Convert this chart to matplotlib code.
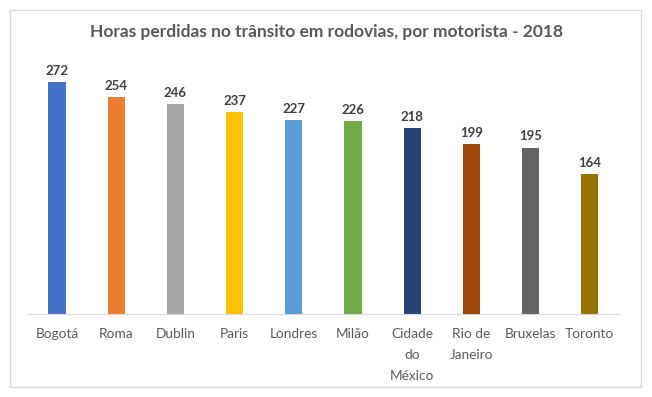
import matplotlib.pyplot as plt
from matplotlib.patches import Rectangle

# Data
cities = ["Bogotá", "Roma", "Dublin", "Paris", "Londres", "Milão",
          "Cidade\ndo\nMéxico", "Rio de\nJaneiro", "Bruxelas", "Toronto"]
hours = [272, 254, 246, 237, 227, 226, 218, 199, 195, 164]
colors = ["#4472C4", "#ED7D31", "#A5A5A5", "#FFC000", "#5B9BD5",
          "#70AD47", "#264478", "#9E480E", "#636363", "#997300"]

plt.rcParams['font.family'] = ['Lato', 'DejaVu Sans']

fig = plt.figure(figsize=(6.52, 3.97), dpi=100)
ax = fig.add_axes([0.042, 0.209, 0.908, 0.645])

x = range(len(cities))
bars = ax.bar(x, hours, width=0.29, color=colors)
for xi, h in zip(x, hours):
    ax.text(xi, h + 6, str(h), ha='center', va='bottom', fontsize=9.5,
            fontweight='bold', color='#404040')

ax.set_xlim(-0.5, len(cities) - 0.5)
ax.set_ylim(0, 300)
ax.set_yticks([])
ax.set_xticks(list(x))
ax.set_xticklabels(cities, fontsize=9.8, color='#595959', linespacing=1.9, va='top')
ax.tick_params(axis='x', length=0, pad=10)
for s in ['top', 'right', 'left']:
    ax.spines[s].set_visible(False)
ax.spines['bottom'].set_color('#D9D9D9')

fig.text(0.5, 0.92, "Horas perdidas no trânsito em rodovias, por motorista - 2018",
         ha='center', va='center', fontsize=12.5, fontweight='bold', color='#595959')

# chart border
fig.patches.append(Rectangle((10 / 652, 10 / 397), 631 / 652, 377 / 397,
                             transform=fig.transFigure, fill=False,
                             edgecolor='#D9D9D9', linewidth=1))

plt.savefig("out.png", dpi=100)
